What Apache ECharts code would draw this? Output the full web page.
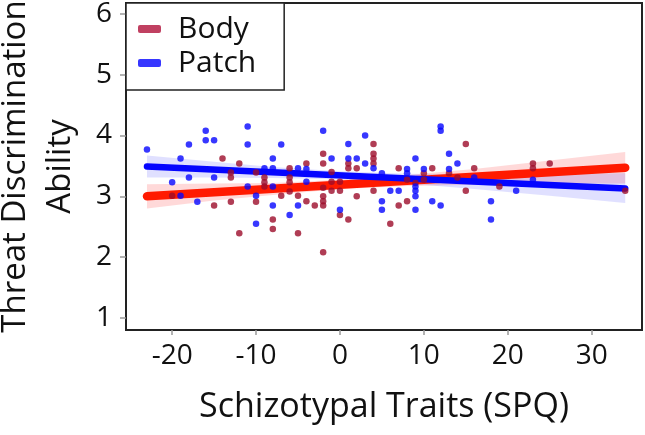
<!DOCTYPE html>
<html>
<head>
<meta charset="utf-8">
<script src="https://cdn.jsdelivr.net/npm/echarts@6/dist/echarts.min.js"></script>
<style>
  html, body { margin: 0; padding: 0; background: #fff; }
  #chart { width: 645px; height: 435px; }
</style>
</head>
<body>
<div id="chart"></div>
<script>
// tick positions
const xTicks = [-20, -10, 0, 10, 20, 30];
const yTicks = [1, 2, 3, 4, 5, 6];

// Body (dark red) points: [SPQ, ability]
const bodyPoints = [
  [-20, 3.01], [-15, 2.85], [-14, 3.62], [-13, 3.39], [-13, 3.31], [-13, 2.91],
  [-12, 3.54], [-12, 2.39], [-10, 3.39], [-10, 2.91], [-9, 3.31], [-9, 3.23],
  [-9, 3.16], [-8, 2.62], [-8, 2.46], [-7, 3.01], [-6, 3.46], [-6, 3.31],
  [-6, 3.23], [-6, 3.08], [-5, 3.01], [-5, 2.39], [-4, 3.54], [-4, 2.92],
  [-3, 2.85], [-2, 3.70], [-2, 3.54], [-2, 3.14], [-2, 3.00], [-2, 2.92],
  [-2, 2.85], [-2, 2.08], [-1, 3.40], [-1, 3.24], [-1, 3.09], [0, 3.24],
  [0, 3.09], [0, 2.69], [1, 3.54], [1, 3.46], [1, 2.62], [2, 3.46],
  [2, 3.00], [4, 3.86], [4, 3.70], [4, 3.62], [4, 3.54], [4, 3.09],
  [6, 2.55], [7, 3.46], [7, 2.85], [8, 3.27], [8, 2.92], [9, 3.22],
  [10, 3.38], [10, 3.27], [11, 3.46], [13, 3.38], [14, 3.31], [15, 3.86],
  [15, 3.09], [16, 3.46], [19, 3.16], [23, 3.54], [23, 3.46], [25, 3.54],
  [34, 3.09]
];

// Patch (blue) points
const patchPoints = [
  [-23, 3.77], [-20, 3.23], [-19, 3.62], [-19, 3.01], [-18, 3.85], [-18, 3.31],
  [-17, 2.91], [-16, 4.08], [-16, 3.92], [-15, 3.92], [-15, 3.31], [-11, 4.15],
  [-11, 3.85], [-11, 3.16], [-10, 3.01], [-10, 2.55], [-9, 3.46], [-8, 3.62],
  [-8, 3.46], [-8, 3.16], [-8, 2.85], [-7, 3.85], [-6, 2.69], [-5, 3.46],
  [-5, 2.85], [-4, 3.45], [-4, 3.24], [-2, 4.08], [-1, 3.62], [0, 2.78],
  [1, 3.86], [1, 3.62], [2, 3.62], [3, 4.00], [3, 3.54], [4, 3.46],
  [5, 3.38], [5, 2.92], [5, 2.78], [6, 3.09], [7, 3.09], [8, 3.45],
  [8, 3.38], [9, 3.62], [9, 3.16], [9, 3.09], [9, 3.00], [9, 2.78],
  [10, 3.45], [11, 2.92], [12, 4.15], [12, 4.08], [12, 2.85], [13, 3.70],
  [13, 3.45], [14, 3.54], [16, 3.31], [18, 2.92], [18, 2.62], [21, 3.09],
  [23, 3.27]
];

// fitted lines (end points)
const bodyFit = [[-23, 3.00], [34, 3.47]];
const patchFit = [[-23, 3.49], [34, 3.13]];

// confidence bands
const bandX = [-23, -15, -8, 0, 8, 16, 25, 34];
const bodyLower = [2.80, 2.93, 3.02, 3.12, 3.17, 3.19, 3.21, 3.21];
const bodyUpper = [3.20, 3.21, 3.22, 3.27, 3.35, 3.45, 3.59, 3.73];
const patchLower = [3.31, 3.31, 3.30, 3.28, 3.21, 3.12, 3.01, 2.89];
const patchUpper = [3.67, 3.57, 3.48, 3.41, 3.37, 3.36, 3.37, 3.38];

const FONT = "'Open Sans', 'Noto Sans', sans-serif";

function bandSeries(lower, upper, fill) {
  return {
    type: "custom",
    silent: true,
    z: 1,
    data: bandX.map((x, i) => [x, lower[i], upper[i]]),
    encode: { x: 0, y: [1, 2] },
    renderItem: (params, api) => {
      if (params.dataIndex !== 0) return;
      const pts = [];
      bandX.forEach((x, i) => pts.push(api.coord([x, upper[i]])));
      for (let i = bandX.length - 1; i >= 0; i--) {
        pts.push(api.coord([bandX[i], lower[i]]));
      }
      return { type: "polygon", shape: { points: pts }, style: { fill: fill } };
    },
  };
}

const chart = echarts.init(document.getElementById("chart"));

chart.setOption({
  animation: false,
  textStyle: { fontFamily: FONT },
  grid: {
    left: 126,
    right: 3,
    top: 3,
    bottom: 105,
    show: true,
    borderColor: "#222",
    borderWidth: 2,
    containLabel: false,
    outerBoundsMode: "none",
  },
  legend: {
    left: 126,
    top: 3,
    orient: "vertical",
    padding: [11, 28, 12, 12],
    itemGap: 4,
    itemWidth: 23,
    itemHeight: 8,
    borderColor: "#222",
    borderWidth: 1.5,
    backgroundColor: "#fff",
    textStyle: { fontSize: 30, color: "#111", fontFamily: FONT, padding: [0, 0, 0, 12] },
    data: [
      { name: "Body", icon: "roundRect", itemStyle: { color: "#b0103a" } },
      { name: "Patch", icon: "roundRect", itemStyle: { color: "#0505ff" } },
    ],
  },
  xAxis: {
    type: "value",
    min: -25.5,
    max: 36,
    name: "Schizotypal Traits (SPQ)",
    nameLocation: "middle",
    nameGap: 60,
    nameTextStyle: { fontSize: 34, color: "#111", fontFamily: FONT },
    axisLine: { show: false, onZero: false },
    axisTick: { show: true, length: 5, customValues: xTicks, lineStyle: { color: "#999", width: 1.5 } },
    axisLabel: { fontSize: 28, color: "#111", margin: 12, customValues: xTicks },
    splitLine: { show: false },
  },
  yAxis: {
    type: "value",
    min: 0.8,
    max: 6.18,
    name: "Threat Discrimination\nAbility",
    nameLocation: "middle",
    nameRotate: 90,
    nameGap: 43,
    nameTextStyle: { fontSize: 33, lineHeight: 45, color: "#111", fontFamily: FONT },
    axisLine: { show: false, onZero: false },
    axisTick: { show: true, length: 6, customValues: yTicks, lineStyle: { color: "#999", width: 1.5 } },
    axisLabel: { fontSize: 28, color: "#111", margin: 14, customValues: yTicks },
    splitLine: { show: false },
  },
  series: [
    bandSeries(bodyLower, bodyUpper, "rgba(255, 80, 80, 0.22)"),
    bandSeries(patchLower, patchUpper, "rgba(70, 70, 255, 0.17)"),
    {
      name: "BodyFit",
      type: "line",
      data: bodyFit,
      z: 3,
      showSymbol: false,
      silent: true,
      lineStyle: { color: "#ff1a00", width: 8.5, cap: "round" },
    },
    {
      name: "PatchFit",
      type: "line",
      data: patchFit,
      z: 4,
      showSymbol: false,
      silent: true,
      lineStyle: { color: "#0505ff", width: 6.5, cap: "round" },
    },
    {
      name: "Body",
      type: "scatter",
      data: bodyPoints,
      z: 5,
      symbolSize: 6.5,
      itemStyle: { color: "#9c0d2a" },
    },
    {
      name: "Patch",
      type: "scatter",
      data: patchPoints,
      z: 5,
      symbolSize: 6.5,
      itemStyle: { color: "#0505ff" },
    },
  ],
});
</script>
</body>
</html>
